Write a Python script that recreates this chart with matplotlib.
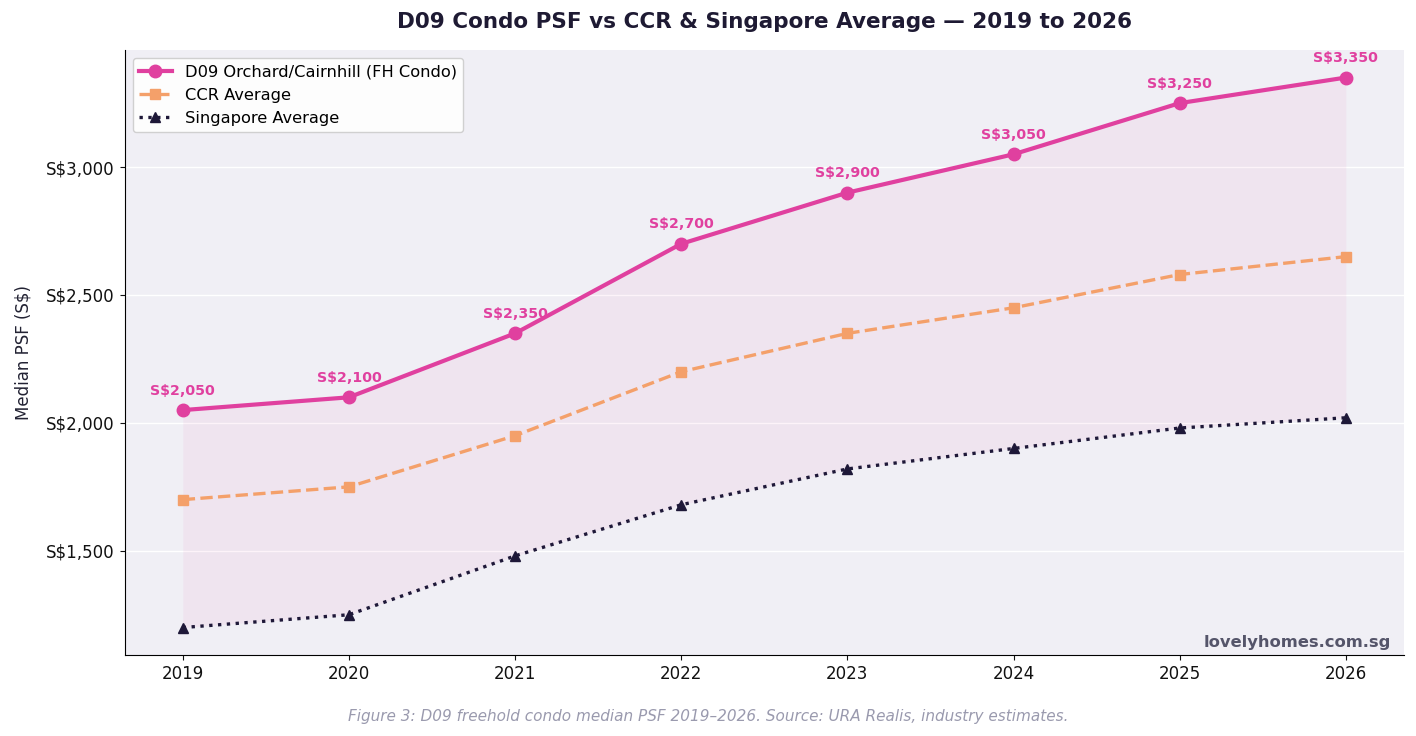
import matplotlib
matplotlib.use("Agg")
import matplotlib.pyplot as plt

plt.rcParams["font.family"] = ["DejaVu Sans"]

years = [2019, 2020, 2021, 2022, 2023, 2024, 2025, 2026]
d09 = [2050, 2100, 2350, 2700, 2900, 3050, 3250, 3350]
ccr = [1700, 1750, 1950, 2200, 2350, 2450, 2580, 2650]
sg = [1200, 1250, 1480, 1680, 1820, 1900, 1980, 2020]
yticks = [1500, 2000, 2500, 3000]

pink = "#e0409f"
orange = "#f4a06a"
navy = "#1e1838"

fig = plt.figure(figsize=(14.16, 7.36), dpi=100)
ax = fig.add_axes([0.088, 0.110, 0.9035, 0.822])
ax.set_facecolor("#f0eff5")

ax.fill_between(years, sg, d09, color=pink, alpha=0.06, linewidth=0)
ax.plot(years, d09, color=pink, lw=3, marker="o", ms=9, label="D09 Orchard/Cairnhill (FH Condo)", zorder=4)
ax.plot(years, ccr, color=orange, lw=2.4, ls="--", marker="s", ms=7.5, label="CCR Average", zorder=3)
ax.plot(years, sg, color=navy, lw=2.4, ls=":", marker="^", ms=7.5, label="Singapore Average", zorder=3)

for x, y in zip(years, d09):
    ax.annotate(f"S${y:,}", (x, y), xytext=(0, 9), textcoords="offset points",
                ha="center", va="bottom", fontsize=10.2, fontweight="bold", color=pink)

ax.set_xticks(years)
ax.set_yticks(yticks)
ax.set_yticklabels([f"S${v:,}" for v in yticks])
ax.tick_params(labelsize=12, colors="#111111")
ax.grid(axis="y", color="white", lw=1)
ax.set_axisbelow(True)
for s in ["top", "right"]:
    ax.spines[s].set_visible(False)
ax.set_ylabel("Median PSF (S$)", fontsize=12, color="#222233", labelpad=10)

ax.set_title("D09 Condo PSF vs CCR & Singapore Average — 2019 to 2026",
             fontsize=15.5, fontweight="bold", color="#1e1a33", pad=16)

leg = ax.legend(loc="upper left", fontsize=11.7, frameon=True, facecolor="white",
                edgecolor="#cccccc", framealpha=0.9)

ax.text(0.99, 0.008, "lovelyhomes.com.sg", transform=ax.transAxes, ha="right", va="bottom",
        fontsize=11.8, fontweight="bold", color="#55556a")

fig.text(0.5, 0.027, "Figure 3: D09 freehold condo median PSF 2019–2026. Source: URA Realis, industry estimates.",
         ha="center", va="center", fontsize=11, style="italic", color="#9a9aae")

fig.savefig("out.png", dpi=100)
